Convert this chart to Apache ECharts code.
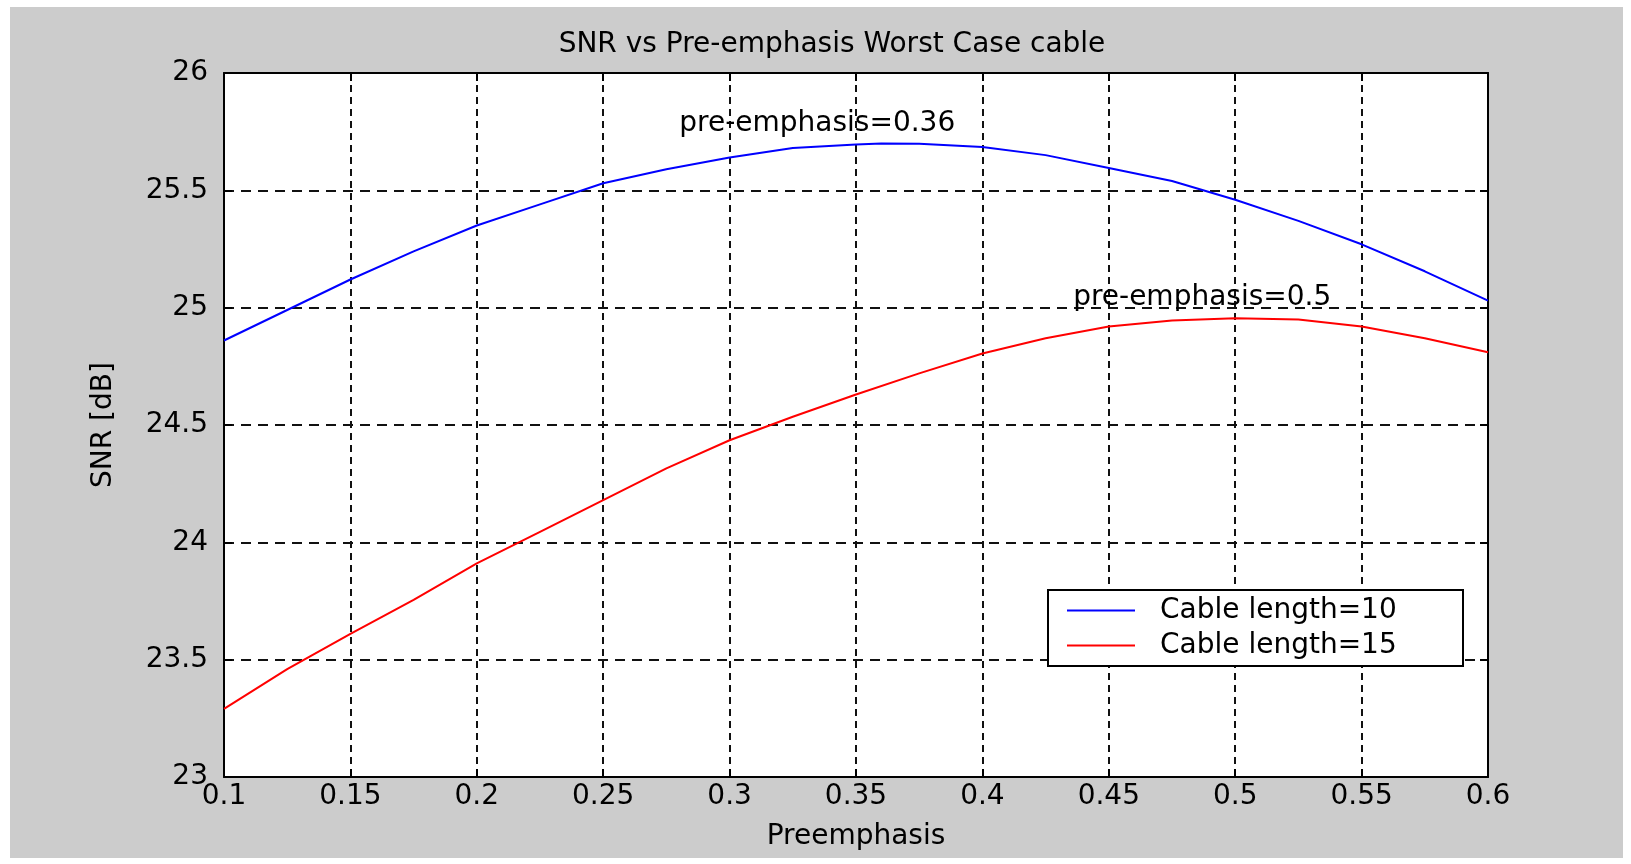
<!DOCTYPE html>
<html>
<head>
<meta charset="utf-8">
<title>SNR vs Pre-emphasis Worst Case cable</title>
<script src="https://cdn.jsdelivr.net/npm/echarts@6/dist/echarts.min.js"></script>
<style>
  html, body { margin: 0; padding: 0; background: #ffffff; }
  #chart { width: 1631px; height: 864px; }
</style>
</head>
<body>
<div id="chart"></div>
<script>
// Pre-emphasis sweep for the two cable lengths
const xCable10 = [0.1, 0.125, 0.15, 0.175, 0.2, 0.225, 0.25, 0.275, 0.3, 0.325, 0.35, 0.36,
                  0.375, 0.4, 0.425, 0.45, 0.475, 0.5, 0.525, 0.55, 0.575, 0.6];
const snrCable10 = [24.86, 24.99, 25.12, 25.24, 25.35, 25.44, 25.53, 25.59, 25.64, 25.68, 25.695, 25.70,
                    25.698, 25.685, 25.65, 25.595, 25.54, 25.46, 25.37, 25.27, 25.155, 25.03];

const xCable15 = [0.1, 0.125, 0.15, 0.175, 0.2, 0.225, 0.25, 0.275, 0.3, 0.325, 0.35,
                  0.375, 0.4, 0.425, 0.45, 0.475, 0.5, 0.525, 0.55, 0.575, 0.6];
const snrCable15 = [23.29, 23.46, 23.61, 23.755, 23.91, 24.045, 24.18, 24.315, 24.435, 24.535, 24.63,
                    24.72, 24.805, 24.87, 24.92, 24.945, 24.955, 24.95, 24.92, 24.87, 24.81];

const seriesNames = ['Cable length=10', 'Cable length=15'];
const xTickLabels = ['0.1', '0.15', '0.2', '0.25', '0.3', '0.35', '0.4', '0.45', '0.5', '0.55', '0.6'];
const yTickLabels = ['23', '23.5', '24', '24.5', '25', '25.5', '26'];

const FONT = 'DejaVu Sans';
const FS = 28;

function pairs(xs, ys) { return xs.map((x, i) => [x, ys[i]]); }
function peak(xs, ys) {
  let k = 0;
  ys.forEach((v, i) => { if (v > ys[k]) k = i; });
  return [xs[k], ys[k]];
}

const peak10 = peak(xCable10, snrCable10);
const peak15 = peak(xCable15, snrCable15);

function peakMark(p, offset) {
  return {
    silent: true,
    symbol: 'circle',
    symbolSize: 0,
    data: [{ coord: p, value: p[0] }],
    label: {
      show: true,
      position: 'inside',
      offset: offset,
      formatter: (d) => 'pre-emphasis=' + d.value,
      color: '#000',
      fontFamily: FONT,
      fontSize: FS
    }
  };
}

const axisLineStyle = { show: true, onZero: false, lineStyle: { color: '#000', width: 2 } };
const tickInside = { show: true, inside: true, length: 8, lineStyle: { color: '#000', width: 2 } };

const chart = echarts.init(document.getElementById('chart'), null, { renderer: 'canvas' });

chart.setOption({
  animation: false,
  backgroundColor: '#ffffff',
  graphic: [{
    type: 'rect',
    z: -100,
    silent: true,
    shape: { x: 10, y: 7, width: 1613, height: 851 },
    style: { fill: '#cccccc' }
  }],
  title: {
    text: 'SNR vs Pre-emphasis Worst Case cable',
    left: 832,
    top: 31,
    textAlign: 'center',
    padding: 0,
    textStyle: { fontFamily: FONT, fontSize: FS, fontWeight: 'normal', color: '#000' }
  },
  grid: {
    left: 224, right: 143, top: 73, bottom: 87,
    show: true,
    backgroundColor: '#ffffff',
    borderWidth: 0
  },
  legend: {
    orient: 'vertical',
    left: 1048,
    top: 590,
    padding: [3, 33, 3, 19],
    itemGap: 0,
    itemWidth: 68,
    itemHeight: 2,
    icon: 'rect',
    backgroundColor: '#ffffff',
    borderColor: '#000',
    borderWidth: 2,
    borderRadius: 0,
    data: seriesNames,
    textStyle: {
      fontFamily: FONT, fontSize: FS, color: '#000',
      lineHeight: 35, width: 270, padding: [0, 0, 0, 20]
    }
  },
  xAxis: [{
    type: 'value',
    position: 'bottom',
    min: 0.1, max: 0.6, interval: 0.05,
    name: 'Preemphasis',
    nameLocation: 'middle',
    nameGap: 46,
    nameTextStyle: { fontFamily: FONT, fontSize: FS, color: '#000' },
    axisLine: axisLineStyle,
    axisTick: tickInside,
    axisLabel: {
      margin: 6, color: '#000', fontFamily: FONT, fontSize: FS,
      formatter: (v, i) => xTickLabels[i]
    },
    splitLine: { show: true, lineStyle: { color: '#111', width: 2, type: [7, 5] } }
  }, {
    type: 'value',
    position: 'top',
    min: 0.1, max: 0.6, interval: 0.05,
    axisLine: axisLineStyle,
    axisTick: tickInside,
    axisLabel: { show: false },
    splitLine: { show: false }
  }],
  yAxis: [{
    type: 'value',
    position: 'left',
    min: 23, max: 26, interval: 0.5,
    name: 'SNR [dB]',
    nameLocation: 'middle',
    nameGap: 106,
    nameTextStyle: { fontFamily: FONT, fontSize: FS, color: '#000' },
    axisLine: axisLineStyle,
    axisTick: tickInside,
    axisLabel: {
      margin: 16, color: '#000', fontFamily: FONT, fontSize: FS,
      formatter: (v, i) => yTickLabels[i]
    },
    splitLine: { show: true, lineStyle: { color: '#111', width: 2, type: [10, 7] } }
  }, {
    type: 'value',
    position: 'right',
    min: 23, max: 26, interval: 0.5,
    axisLine: axisLineStyle,
    axisTick: tickInside,
    axisLabel: { show: false },
    splitLine: { show: false }
  }],
  series: [{
    name: seriesNames[0],
    type: 'line',
    data: pairs(xCable10, snrCable10),
    showSymbol: false,
    symbol: 'none',
    lineStyle: { color: '#0000ff', width: 2 },
    itemStyle: { color: '#0000ff' },
    z: 5,
    markPoint: peakMark(peak10, [-64, -20])
  }, {
    name: seriesNames[1],
    type: 'line',
    data: pairs(xCable15, snrCable15),
    showSymbol: false,
    symbol: 'none',
    lineStyle: { color: '#ff0000', width: 2 },
    itemStyle: { color: '#ff0000' },
    z: 5,
    markPoint: peakMark(peak15, [-33, -21])
  }]
});
</script>
</body>
</html>
